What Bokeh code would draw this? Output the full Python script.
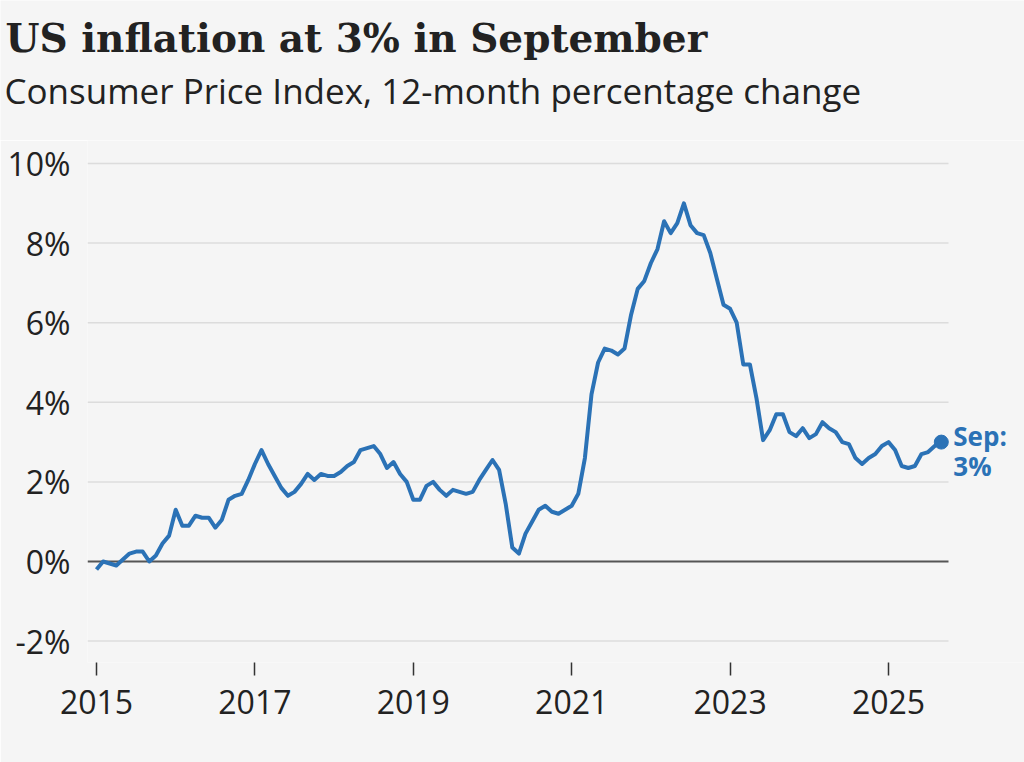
from bokeh.plotting import figure
from bokeh.layouts import column
from bokeh.models import FixedTicker, Label, Range1d
from bokeh.embed import file_html
from bokeh.resources import INLINE

# ---- data: US CPI, 12-month % change, Jan 2015 - Sep 2025 ----
cpi_2015 = [-0.2, 0.0, -0.05, -0.1, 0.05, 0.2, 0.25, 0.25, 0.0, 0.15, 0.45, 0.65]
cpi_2016 = [1.3, 0.9, 0.9, 1.15, 1.1, 1.1, 0.85, 1.05, 1.55, 1.65, 1.7, 2.05]
cpi_2017 = [2.45, 2.8, 2.45, 2.15, 1.85, 1.65, 1.75, 1.95, 2.2, 2.05, 2.2, 2.15]
cpi_2018 = [2.15, 2.25, 2.4, 2.5, 2.8, 2.85, 2.9, 2.7, 2.35, 2.5, 2.2, 2.0]
cpi_2019 = [1.55, 1.55, 1.9, 2.0, 1.8, 1.65, 1.8, 1.75, 1.7, 1.75, 2.05, 2.3]
cpi_2020 = [2.55, 2.3, 1.45, 0.35, 0.2, 0.7, 1.0, 1.3, 1.4, 1.25, 1.2, 1.3]
cpi_2021 = [1.4, 1.7, 2.6, 4.2, 5.0, 5.35, 5.3, 5.2, 5.35, 6.2, 6.85, 7.05]
cpi_2022 = [7.5, 7.85, 8.55, 8.25, 8.5, 9.0, 8.45, 8.25, 8.2, 7.75, 7.1, 6.45]
cpi_2023 = [6.35, 6.0, 4.95, 4.95, 4.1, 3.05, 3.3, 3.7, 3.7, 3.25, 3.15, 3.35]
cpi_2024 = [3.1, 3.2, 3.5, 3.35, 3.25, 3.0, 2.95, 2.6, 2.45, 2.6, 2.7, 2.9]
cpi_2025 = [3.0, 2.8, 2.4, 2.35, 2.4, 2.7, 2.75, 2.9, 3.0]

x_ticks = [2015, 2017, 2019, 2021, 2023, 2025]
x_tick_labels = ["2015", "2017", "2019", "2021", "2023", "2025"]
y_ticks = [-2, 0, 2, 4, 6, 8, 10]
y_tick_labels = ["-2%", "0%", "2%", "4%", "6%", "8%", "10%"]

title_text = "US inflation at 3% in September"
subtitle_text = "Consumer Price Index, 12-month percentage change"
end_label_1 = "Sep:"
end_label_2 = "3%"

values = (cpi_2015 + cpi_2016 + cpi_2017 + cpi_2018 + cpi_2019 + cpi_2020
          + cpi_2021 + cpi_2022 + cpi_2023 + cpi_2024 + cpi_2025)
xs = [2015 + i / 12 for i in range(len(values))]

# ---- styling / layout ----
BG = "#f5f5f5"
BLUE = "#2b72b6"
TEXT = "#222222"
W = 1024
HEAD_H = 140
MAIN_H = 762 - HEAD_H
PX_X = 79.2   # pixels per year
PX_Y = 39.8   # pixels per percentage point
FRAME_L = 87
FRAME_B = 662
ZERO_Y = 561
X0_PX = 96    # pixel of 2015

x0 = 2015 - (X0_PX - FRAME_L) / PX_X
x1 = 2015 + (W - X0_PX) / PX_X
grid_end = 2015 + (948 - X0_PX) / PX_X
y0 = -(FRAME_B - ZERO_Y) / PX_Y
y1 = (ZERO_Y - HEAD_H) / PX_Y

# ---- header figure (title + subtitle) ----
head = figure(width=W, height=HEAD_H, output_backend="svg", toolbar_location=None,
              x_range=Range1d(0, W), y_range=Range1d(HEAD_H, 0),
              x_axis_type=None, y_axis_type=None, min_border=0)
head.frame_align = False
head.background_fill_color = BG
head.border_fill_color = BG
head.outline_line_color = None
head.grid.visible = False
head.add_layout(Label(x=5, y=37, text=title_text,
                      text_font="DejaVu Serif", text_font_style="bold",
                      text_font_size="39px", text_color=TEXT,
                      text_baseline="alphabetic"))
head.add_layout(Label(x=4, y=90, text=subtitle_text,
                      text_font="Open Sans", text_font_size="35px",
                      text_color=TEXT, text_baseline="alphabetic"))

# ---- main chart ----
p = figure(width=W, height=MAIN_H, output_backend="svg", toolbar_location=None,
           x_range=Range1d(x0, x1), y_range=Range1d(y0, y1),
           min_border_left=FRAME_L, min_border_right=0, min_border_top=0,
           min_border_bottom=MAIN_H - (FRAME_B - HEAD_H))
p.frame_align = False
p.background_fill_color = BG
p.border_fill_color = BG
p.outline_line_color = None

p.xaxis.ticker = FixedTicker(ticks=x_ticks)
p.xaxis.major_label_overrides = dict(zip(x_ticks, x_tick_labels))
p.xaxis.axis_line_color = None
p.xaxis.major_tick_line_color = "#333333"
p.xaxis.major_tick_line_width = 1.5
p.xaxis.major_tick_in = 0
p.xaxis.major_tick_out = 13
p.xaxis.minor_tick_line_color = None
p.xaxis.major_label_standoff = 14
p.xaxis.major_label_text_font = "Open Sans"
p.xaxis.major_label_text_font_size = "32px"
p.xaxis.major_label_text_color = TEXT

p.yaxis.ticker = FixedTicker(ticks=y_ticks)
p.yaxis.major_label_overrides = dict(zip(y_ticks, y_tick_labels))
p.yaxis.axis_line_color = None
p.yaxis.major_tick_line_color = None
p.yaxis.major_tick_in = 0
p.yaxis.major_tick_out = 0
p.yaxis.minor_tick_line_color = None
p.yaxis.major_label_standoff = 17
p.yaxis.major_label_text_font = "Open Sans"
p.yaxis.major_label_text_font_size = "32px"
p.yaxis.major_label_text_color = TEXT

p.grid.visible = False

# horizontal gridlines (limited to the chart width), zero line darker
grid_vals = [v for v in y_ticks if v != 0]
p.segment(x0=[x0] * len(grid_vals), y0=grid_vals, x1=[grid_end] * len(grid_vals),
          y1=grid_vals, line_color="#dcdcdc", line_width=1.5)
p.segment(x0=[x0], y0=[0], x1=[grid_end], y1=[0], line_color="#555555", line_width=2)

# data line and end point
p.line(xs, values, line_color=BLUE, line_width=4, line_join="round")
p.scatter([xs[-1]], [values[-1]], size=14, color=BLUE)

# end label
p.add_layout(Label(x=xs[-1], y=values[-1] + 6.6 / PX_Y, x_offset=12, text=end_label_1,
                   text_font="Open Sans", text_font_style="bold", text_font_size="26px",
                   text_color=BLUE, text_baseline="alphabetic"))
p.add_layout(Label(x=xs[-1], y=values[-1] - 23.4 / PX_Y, x_offset=12, text=end_label_2,
                   text_font="Open Sans", text_font_style="bold", text_font_size="26px",
                   text_color=BLUE, text_baseline="alphabetic"))

layout = column(head, p, spacing=0)
open("out.html", "w").write(file_html(layout, INLINE))
